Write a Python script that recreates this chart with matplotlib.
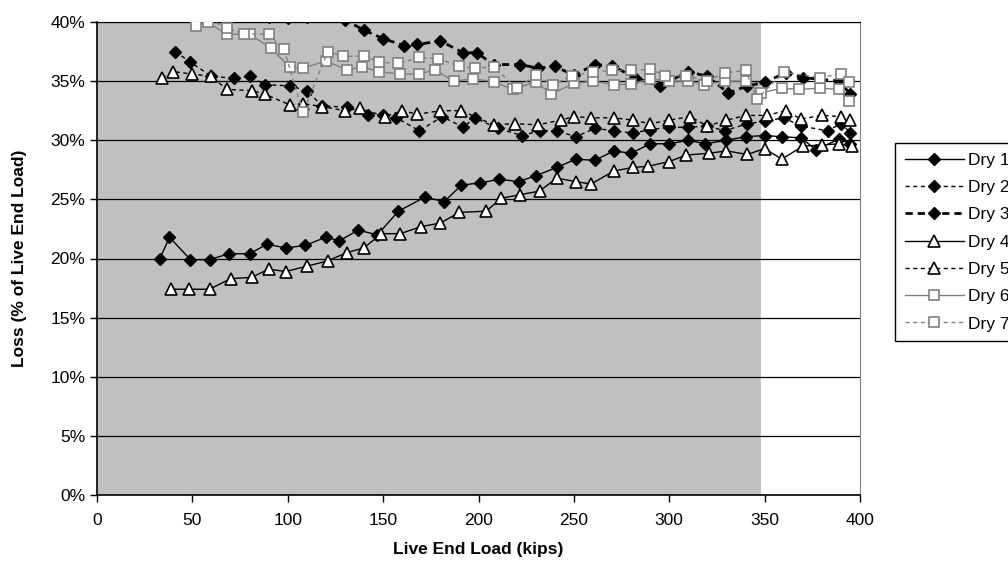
import matplotlib.pyplot as plt
from matplotlib.ticker import PercentFormatter


# ======================================================================================== #
# Dados: carga na extremidade ativa (kips) e perda (% da carga).
# ======================================================================================== #

carga_dry1 = [33, 38, 49, 59, 69, 80, 89, 99, 109, 120, 127, 137, 147, 158, 172, 182, 191, 201, 211,
              221, 230, 241, 251, 261, 271, 280, 290, 300, 310, 319, 330, 340, 350, 359, 369, 377,
              389, 395]
perda_dry1 = [20.0, 21.8, 19.9, 19.9, 20.4, 20.4, 21.2, 20.9, 21.1, 21.8, 21.5, 22.4, 22.0, 24.0,
              25.2, 24.8, 26.2, 26.4, 26.7, 26.5, 27.0, 27.7, 28.4, 28.3, 29.1, 28.9, 29.7, 29.7,
              30.0, 29.7, 30.0, 30.3, 30.4, 30.3, 30.2, 29.2, 30.1, 29.7]

carga_dry2 = [41, 49, 60, 72, 80, 88, 101, 110, 118, 131, 142, 150, 157, 169, 181, 192, 198, 210,
              223, 232, 241, 251, 261, 271, 281, 290, 300, 310, 320, 329, 341, 350, 360, 369, 383,
              390, 395]
perda_dry2 = [37.5, 36.6, 35.4, 35.25, 35.4, 34.7, 34.6, 34.2, 32.9, 32.8, 32.1, 32.1, 31.9, 30.8,
              32.0, 31.1, 31.9, 31.0, 30.4, 30.8, 30.8, 30.3, 31.0, 30.8, 30.6, 30.9, 31.1, 31.1,
              31.2, 30.8, 31.4, 31.6, 31.9, 31.2, 30.8, 31.4, 30.65]

carga_dry3 = [40, 50, 60, 70, 80, 90, 100, 110, 120, 130, 140, 150, 161, 168, 180, 192, 199, 208,
              222, 231, 240, 250, 261, 270, 282, 295, 310, 320, 331, 341, 350, 361, 370, 389, 395]
perda_dry3 = [42.0, 41.5, 41.0, 40.6, 40.5, 40.4, 40.3, 40.4, 40.6, 40.2, 39.3, 38.6, 38.0, 38.1,
              38.4, 37.4, 37.4, 36.4, 36.4, 36.1, 36.25, 35.5, 36.4, 36.3, 35.3, 34.6, 35.8, 35.4,
              34.0, 34.6, 34.9, 35.7, 35.3, 35.0, 33.9]

carga_dry4 = [39, 48, 59, 70, 81, 90, 99, 110, 121, 131, 140, 149, 159, 170, 180, 190, 204, 212,
              222, 232, 241, 251, 259, 271, 281, 289, 300, 309, 321, 330, 341, 350, 359, 370, 380,
              389, 396]
perda_dry4 = [17.4, 17.4, 17.4, 18.3, 18.4, 19.1, 18.9, 19.35, 19.8, 20.5, 20.9, 22.1, 22.1, 22.7,
              23.0, 23.9, 24.0, 25.1, 25.4, 25.7, 26.8, 26.5, 26.3, 27.4, 27.7, 27.8, 28.2, 28.75,
              28.9, 29.1, 28.8, 29.3, 28.4, 29.5, 29.6, 29.7, 29.5]

carga_dry5 = [34, 40, 50, 60, 68, 81, 88, 101, 108, 118, 130, 138, 151, 160, 168, 180, 191, 208,
              219, 231, 243, 250, 259, 271, 281, 290, 300, 311, 320, 330, 340, 351, 361, 369, 380,
              390, 395]
perda_dry5 = [35.3, 35.8, 35.6, 35.4, 34.3, 34.2, 33.9, 33.0, 33.1, 32.85, 32.5, 32.7, 32.0, 32.5,
              32.2, 32.5, 32.5, 31.3, 31.4, 31.3, 31.7, 32.0, 31.9, 31.9, 31.7, 31.4, 31.7, 32.0,
              31.2, 31.7, 32.1, 32.1, 32.5, 31.8, 32.1, 32.0, 31.7]

carga_dry6 = [45, 52, 58, 68, 80, 91, 101, 108, 120, 131, 139, 148, 159, 169, 177, 187, 197, 208,
              218, 230, 238, 250, 260, 271, 280, 290, 300, 310, 318, 329, 340, 348, 359, 368, 379,
              389, 394]
perda_dry6 = [40.5, 39.7, 40.0, 38.95, 38.98, 37.8, 36.2, 36.1, 36.7, 35.96, 36.2, 35.8, 35.6, 35.6,
              35.96, 35.0, 35.2, 34.95, 34.3, 34.95, 33.9, 34.8, 35.0, 34.7, 34.75, 35.2, 35.0,
              35.0, 34.7, 35.0, 35.0, 34.0, 34.4, 34.3, 34.4, 34.3, 33.3]

carga_dry7 = [45, 55, 68, 77, 90, 98, 108, 121, 129, 140, 148, 158, 169, 179, 190, 198, 208, 220,
              230, 239, 249, 260, 270, 280, 290, 298, 309, 320, 329, 340, 346, 360, 379, 390, 394]
perda_dry7 = [41.5, 40.5, 39.5, 38.98, 38.98, 37.7, 32.35, 37.5, 37.1, 37.1, 36.6, 36.5, 37.0, 36.9,
              36.25, 36.1, 36.2, 34.4, 35.5, 34.7, 35.45, 35.8, 35.9, 35.9, 36.0, 35.45, 35.45,
              35.0, 35.7, 35.9, 33.5, 35.75, 35.3, 35.6, 34.9]

nomes_series = ["Dry 1", "Dry 2", "Dry 3", "Dry 4", "Dry 5", "Dry 6", "Dry 7"]

# Limite da faixa sombreada (kips)
limite_sombreado = 348


# ======================================================================================== #
# Estilo de cada série (linha, marcador e cores).
# ======================================================================================== #

CINZA = "#808080"
pontilhado = (0, (3, 2.5))
tracejado_grosso = (0, (2.6, 1.8))

estilos = [
    dict(color="black", lw=1.0, ls="-", marker="D", ms=6.5, mfc="black", mec="black"),
    dict(color="black", lw=1.0, ls=pontilhado, marker="D", ms=6.5, mfc="black", mec="black"),
    dict(color="black", lw=2.0, ls=tracejado_grosso, marker="D", ms=6.5, mfc="black", mec="black"),
    dict(color="black", lw=1.0, ls="-", marker="^", ms=8, mfc="white", mec="black", mew=1.2),
    dict(color="black", lw=1.0, ls=pontilhado, marker="^", ms=8, mfc="white", mec="black", mew=1.2),
    dict(color=CINZA, lw=1.0, ls="-", marker="s", ms=7, mfc="white", mec=CINZA, mew=1.2),
    dict(color=CINZA, lw=1.0, ls=pontilhado, marker="s", ms=7, mfc="white", mec=CINZA, mew=1.2),
]

cargas = [carga_dry1, carga_dry2, carga_dry3, carga_dry4, carga_dry5, carga_dry6, carga_dry7]
perdas = [perda_dry1, perda_dry2, perda_dry3, perda_dry4, perda_dry5, perda_dry6, perda_dry7]


# ======================================================================================== #
# Gráfico.
# ======================================================================================== #

plt.rcParams["font.family"] = ["Liberation Sans", "DejaVu Sans"]

fig = plt.figure(figsize=(10.08, 5.69), dpi=100)
ax = fig.add_axes([97 / 1008, 1 - 495 / 569, (860 - 97) / 1008, (495 - 22) / 569])

ax.axvspan(0, limite_sombreado, color="#c0c0c0", zorder=0, lw=0)

for carga, perda, nome, estilo in zip(cargas, perdas, nomes_series, estilos):
    ax.plot(carga, perda, label=nome, zorder=3, **estilo)

ax.set_xlim(0, 400)
ax.set_ylim(0, 40)
ax.set_xticks(range(0, 401, 50))
ax.set_yticks(range(0, 41, 5))
ax.yaxis.set_major_formatter(PercentFormatter(decimals=0))

ax.yaxis.grid(True, color="black", lw=0.9)
ax.set_axisbelow(True)

ax.spines["top"].set_color("black")
ax.spines["right"].set_color(CINZA)
ax.spines["left"].set_linewidth(1.2)
ax.spines["bottom"].set_linewidth(1.2)

ax.tick_params(axis="both", direction="out", length=5, width=1, labelsize=12.5, colors="black")
ax.tick_params(axis="x", pad=8)

ax.set_xlabel("Live End Load (kips)", fontsize=12.5, fontweight="bold", labelpad=10)
ax.set_ylabel("Loss (% of Live End Load)", fontsize=12.5, fontweight="bold", labelpad=17)

# A legenda fica parcialmente fora da figura, como no original
fig.legend(
    loc="upper left",
    bbox_to_anchor=(895 / 1008, 1 - 143 / 569),
    fontsize=12.5,
    frameon=True,
    fancybox=False,
    edgecolor="black",
    framealpha=1,
    handlelength=3.4,
    handletextpad=0.25,
    labelspacing=0.7,
    borderpad=0.55,
    borderaxespad=0,
)

fig.savefig("out.png", dpi=100)
